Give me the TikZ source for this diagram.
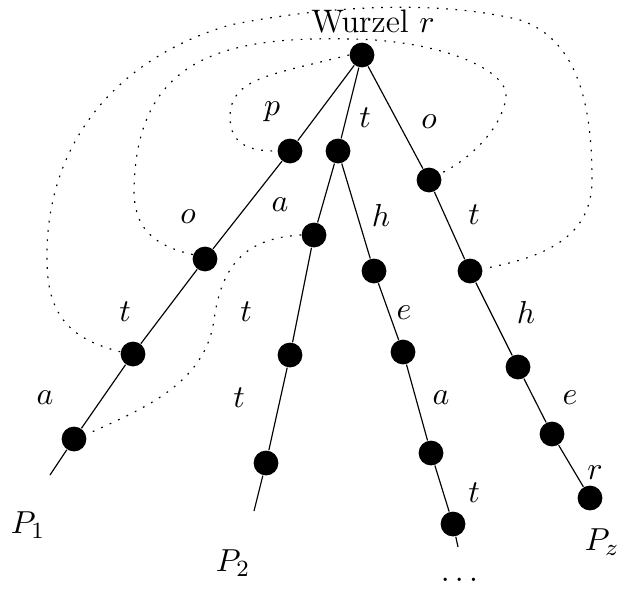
\documentclass[tikz,border=0pt]{standalone}
\usepackage{amsmath,amssymb}
\usepackage{tikz}
\usepackage{xcolor}

\begin{document}
\begin{tikzpicture}[x=0.0121cm, y=-0.0121cm,
    vertex/.style={circle, fill=black, inner sep=0pt, minimum size=0.3cm},
    lbl/.style={inner sep=1pt, font=\fontsize{11.2}{13}\selectfont},
    trail/.style={dash pattern=on 0.6pt off 2.6pt}]

    \useasboundingbox (0,0) rectangle (621,590);

    \node[lbl] (wurzel) at (373,22) {Wurzel $r$};
    \node[vertex] (root) at (362,55) {};

    % Pfad P_1
    \node[vertex] (p1) at (290,151) {};
    \node[vertex] (o1) at (205,259) {};
    \node[vertex] (t1) at (133,354) {};
    \node[vertex] (a1) at (74,439) {};
    \coordinate (end1) at (50,475);

    % Pfad P_2 und Nachbar
    \node[vertex] (t2) at (338,151) {};
    \node[vertex] (a2) at (314,235) {};
    \node[vertex] (t2b) at (290,355) {};
    \node[vertex] (t2c) at (266,463) {};
    \coordinate (end2) at (254,511);
    \node[vertex] (h3) at (374,271) {};
    \node[vertex] (e3) at (403,352) {};
    \node[vertex] (a3) at (431,453) {};
    \node[vertex] (t3) at (453,524) {};
    \coordinate (end3) at (458,547);

    % Pfad P_z
    \node[vertex] (o4) at (429,180) {};
    \node[vertex] (t4) at (470,271) {};
    \node[vertex] (h4) at (518,367) {};
    \node[vertex] (e4) at (552,434) {};
    \node[vertex] (r4) at (590,498) {};

    \draw (root) -- (p1) -- (o1) -- (t1) -- (a1) -- (end1);
    \draw (root) -- (t2) -- (a2) -- (t2b) -- (t2c) -- (end2);
    \draw (t2) -- (h3) -- (e3) -- (a3) -- (t3) -- (end3);
    \draw (root) -- (o4) -- (t4) -- (h4) -- (e4) -- (r4);

    % Buchstaben
    \node[lbl] (lp) at (272,112) {$p$};
    \node[lbl] (lt) at (365,118) {$t$};
    \node[lbl] (lo) at (429,122) {$o$};
    \node[lbl] (lo1) at (188,217) {$o$};
    \node[lbl] (la2) at (280,205) {$a$};
    \node[lbl] (lh3) at (381,215) {$h$};
    \node[lbl] (lt4) at (474,215) {$t$};
    \node[lbl] (lt1) at (125,312) {$t$};
    \node[lbl] (lt2) at (246,312) {$t$};
    \node[lbl] (le3) at (404,313) {$e$};
    \node[lbl] (lh4) at (526,312) {$h$};
    \node[lbl] (la1) at (45,398) {$a$};
    \node[lbl] (lt2b) at (239,398) {$t$};
    \node[lbl] (la3) at (441,398) {$a$};
    \node[lbl] (le4) at (570,398) {$e$};
    \node[lbl] (lt3) at (474,493) {$t$};
    \node[lbl] (lr4) at (595,473) {$r$};

    \node[lbl] (P1) at (28,525) {$P_1$};
    \node[lbl] (P2) at (233,563) {$P_2$};
    \node[lbl] (dots) at (462,580) {$\dots$};
    \node[lbl] (Pz) at (602,542) {$P_z$};

    % gepunktete Umrandungen
    \draw[trail] (root.west) .. controls (270,75) and (232,78) .. (230,115)
        .. controls (229,148) and (255,151) .. (p1.west);
    \draw[trail] (o1.160) .. controls (150,245) and (134,225) .. (134,190)
        .. controls (136,60) and (220,36) .. (350,39)
        .. controls (440,40) and (510,70) .. (506,98)
        .. controls (500,135) and (460,165) .. (o4.30);
    \draw[trail] (t1.170) .. controls (75,340) and (47,320) .. (47,260)
        .. controls (45,150) and (110,60) .. (230,25)
        .. controls (330,5) and (440,0) .. (520,20)
        .. controls (580,40) and (592,110) .. (592,180)
        .. controls (592,240) and (540,258) .. (t4.10);
    \draw[trail] (a2.west) .. controls (250,238) and (222,260) .. (214,320)
        .. controls (205,385) and (140,410) .. (a1.20);
\end{tikzpicture}
\end{document}
